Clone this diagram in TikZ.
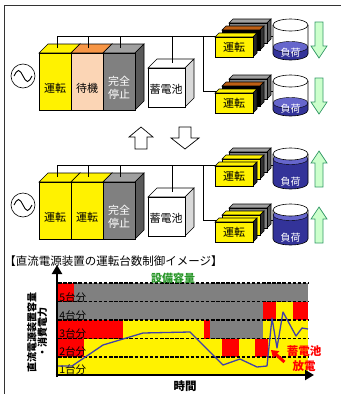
\documentclass[tikz,border=0pt]{standalone}
\usepackage{fontspec}
\setmainfont{Noto Sans CJK JP}
\usetikzlibrary{arrows.meta}

\definecolor{peach}{RGB}{251,213,181}
\definecolor{amber}{RGB}{247,150,70}
\definecolor{rust}{RGB}{190,95,20}
\definecolor{steel}{RGB}{128,128,128}
\definecolor{steeltop}{RGB}{160,160,160}
\definecolor{steelside}{RGB}{89,89,89}
\definecolor{ink}{RGB}{51,51,153}
\definecolor{inktop}{RGB}{102,102,204}
\definecolor{mint}{RGB}{204,255,204}
\definecolor{leaf}{RGB}{51,153,102}
\definecolor{plotline}{RGB}{64,64,170}
\definecolor{capgreen}{RGB}{40,150,40}

% x, y, width, height, depth, front, top, side
\newcommand{\cuboid}[8]{%
  \filldraw[fill=#7] (#1,#2) -- ++(#5,-#5) -- ++(#3,0) -- ++(-#5,#5) -- cycle;
  \filldraw[fill=#8] (#1+#3,#2) -- ++(#5,-#5) -- ++(0,#4) -- ++(-#5,#5) -- cycle;
  \filldraw[fill=#6] (#1,#2) rectangle ++(#3,#4);
}

% centre x, top y, liquid level
\newcommand{\tank}[3]{%
  \fill[white] (#1-17.5,#2) -- (#1-17.5,#2+29) arc[start angle=180,end angle=0,x radius=17.5,y radius=6] -- (#1+17.5,#2) -- cycle;
  \fill[ink] (#1-17.5,#3) -- (#1-17.5,#2+29) arc[start angle=180,end angle=0,x radius=17.5,y radius=6] -- (#1+17.5,#3) -- cycle;
  \filldraw[fill=inktop,thin] (#1,#3) ellipse[x radius=17.5,y radius=5.5];
  \filldraw[fill=white] (#1,#2) ellipse[x radius=17.5,y radius=6];
  \draw (#1-17.5,#2) -- (#1-17.5,#2+29) arc[start angle=180,end angle=0,x radius=17.5,y radius=6] -- (#1+17.5,#2);
}

\begin{document}
\begin{tikzpicture}[x=1pt,y=-1pt,line width=0.6pt,
    boxtext/.style={font=\fontsize{11}{13}\selectfont, align=center},
    loadtext/.style={font=\fontsize{10}{12}\selectfont, text=white},
    wire/.style={line width=0.7pt},
    updown/.style={draw, fill=white, line width=0.7pt},
    flow/.style={draw=leaf, fill=mint, line width=0.7pt},
    grid/.style={line width=1.4pt, dash pattern=on 3.5pt off 1.6pt},
    axis/.style={line width=2.6pt, -{Triangle[length=9pt,width=10pt]}},
    rowlabel/.style={anchor=west, inner sep=1pt, font=\fontsize{10.5}{12}\selectfont, text=black}]
  \useasboundingbox (0,0) rectangle (341,394);
  \draw[line width=0.8pt, black!80] (4,394) -- (4,5) -- (341,5);

  \foreach \dy/\midfront/\midtop/\midtext/\stfront/\sttop/\level/\flip in
      {0/peach/amber/待機/black/rust/47/1, 129/yellow/yellow/運転/yellow/yellow/30/-1} {
    \begin{scope}[shift={(0,\dy)}]
      \draw (23,76) circle[radius=12];
      \draw[line width=0.9pt] (14,76) sin (18.5,70.5) cos (23,76) sin (27.5,81.5) cos (32,76);

      \draw[wire] (57,36) -- (273,36);
      \draw[wire] (203,36) -- (203,91) -- (273,91);

      \cuboid{39}{53}{32}{57}{9}{yellow}{yellow}{yellow}
      \cuboid{71}{53}{32}{57}{9}{\midfront}{\midtop}{\midfront}
      \cuboid{103}{53}{32}{57}{9}{steel}{steeltop}{steelside}
      \cuboid{148}{68}{37}{39}{9}{white}{white}{black!15}

      \draw[wire] (57,36) -- (57,48);
      \draw[wire] (88,36) -- (88,48);
      \draw[wire] (120,36) -- (120,48);
      \draw[wire] (172,36) -- (172,63);

      \node[boxtext] (run-\dy) at (55,88) {運転};
      \node[boxtext] (mid-\dy) at (87,88) {\midtext};
      \node[boxtext, text=white] (stop-\dy) at (119,88) {完全\\停止};
      \node[boxtext] (batt-\dy) at (166,89) {蓄電池};

      \foreach \gy in {0,56} {
        \cuboid{229}{23+\gy}{38}{20}{4}{steel}{steeltop}{steelside}
        \cuboid{222}{30+\gy}{38}{20}{4}{\stfront}{\sttop}{black!80}
        \cuboid{215}{37+\gy}{38}{20}{4}{yellow}{yellow}{black!85}
        \node[boxtext] (unit-\dy-\gy) at (234,47+\gy) {運転};
        \tank{290.5}{25+\gy}{\level+\gy}
        \node[loadtext] (load-\dy-\gy) at (290.5,53+\gy) {負荷};
        \begin{scope}[shift={(319,40+\gy)}, yscale=\flip]
          \draw[flow] (-4,-18) -- (4,-18) -- (4,6) -- (8,6) -- (0,18) -- (-8,6) -- (-4,6) -- cycle;
        \end{scope}
      }
    \end{scope}
  }

  \draw[updown] (141,127) -- (153,137) -- (147,137) -- (147,149) -- (135,149) -- (135,137) -- (129,137) -- cycle;
  \draw[updown] (179,127) -- (191,127) -- (191,138) -- (199,138) -- (185,149) -- (171,138) -- (179,138) -- cycle;

  \node[anchor=west, inner sep=0pt, font=\fontsize{11.5}{13}\selectfont] (title) at (4,261)
    {【直流電源装置の運転台数制御イメージ】};

  \fill[yellow] (58,283) rectangle (308,375);
  \fill[red] (58,283) rectangle (74,301.5);
  \fill[steel] (74,283) rectangle (308,301.5);
  \fill[steel] (58,301.5) rectangle (263,320);
  \fill[red] (263,301.5) rectangle (276,320);
  \fill[red] (293,301.5) rectangle (308,320);
  \fill[red] (58,320) rectangle (123,338.5);
  \fill[red] (204,320) rectangle (210,338.5);
  \fill[steel] (210,320) rectangle (263,338.5);
  \fill[red] (58,338.5) rectangle (84,357);
  \fill[red] (222,338.5) rectangle (239,357);
  \fill[red] (255,338.5) rectangle (268,357);
  \foreach \ly in {283,301.5,320,338.5,357}
    \draw[grid] (58,\ly) -- (308,\ly);

  \node[rowlabel] (n5) at (58,297.5) {5台分};
  \node[rowlabel] (n4) at (58,315.5) {4台分};
  \node[rowlabel] (n3) at (58,334) {3台分};
  \node[rowlabel] (n2) at (58,352) {2台分};
  \node[rowlabel] (n1) at (58,370) {1台分};

  \draw[plotline, line width=1.3pt, line join=round] (58,366) -- (72,366) -- (103,345) -- (143,333)
    -- (190,332) -- (223,365) -- (240,359) -- (257,367) -- (267,366) -- (272,318) -- (277,348)
    -- (283,312) -- (296,336) -- (302,328) -- (308,329);

  \draw[axis] (57,377) -- (57,265);
  \draw[axis] (55.7,375) -- (314,375);

  \node[font=\bfseries\fontsize{11}{12}\selectfont, text=capgreen, inner sep=0pt] (cap) at (173,278) {設備容量};
  \node[rotate=90, align=center, inner sep=0pt, font=\bfseries\fontsize{10}{10.5}\selectfont] (ylab) at (37,332)
    {直流電源装置容量\\・消費電力};
  \node[font=\bfseries\fontsize{11.5}{13}\selectfont, inner sep=0pt] (xlab) at (185,386) {時間};
  \node[align=center, text=red, inner sep=0pt, font=\bfseries\fontsize{11.5}{15}\selectfont] (discharge) at (304,359)
    {蓄電池\\放電};
  \draw[red, line width=3pt, -{Triangle[length=7pt,width=9pt]}] (discharge.west) ++(-2,3) -- (271,350);
\end{tikzpicture}
\end{document}
